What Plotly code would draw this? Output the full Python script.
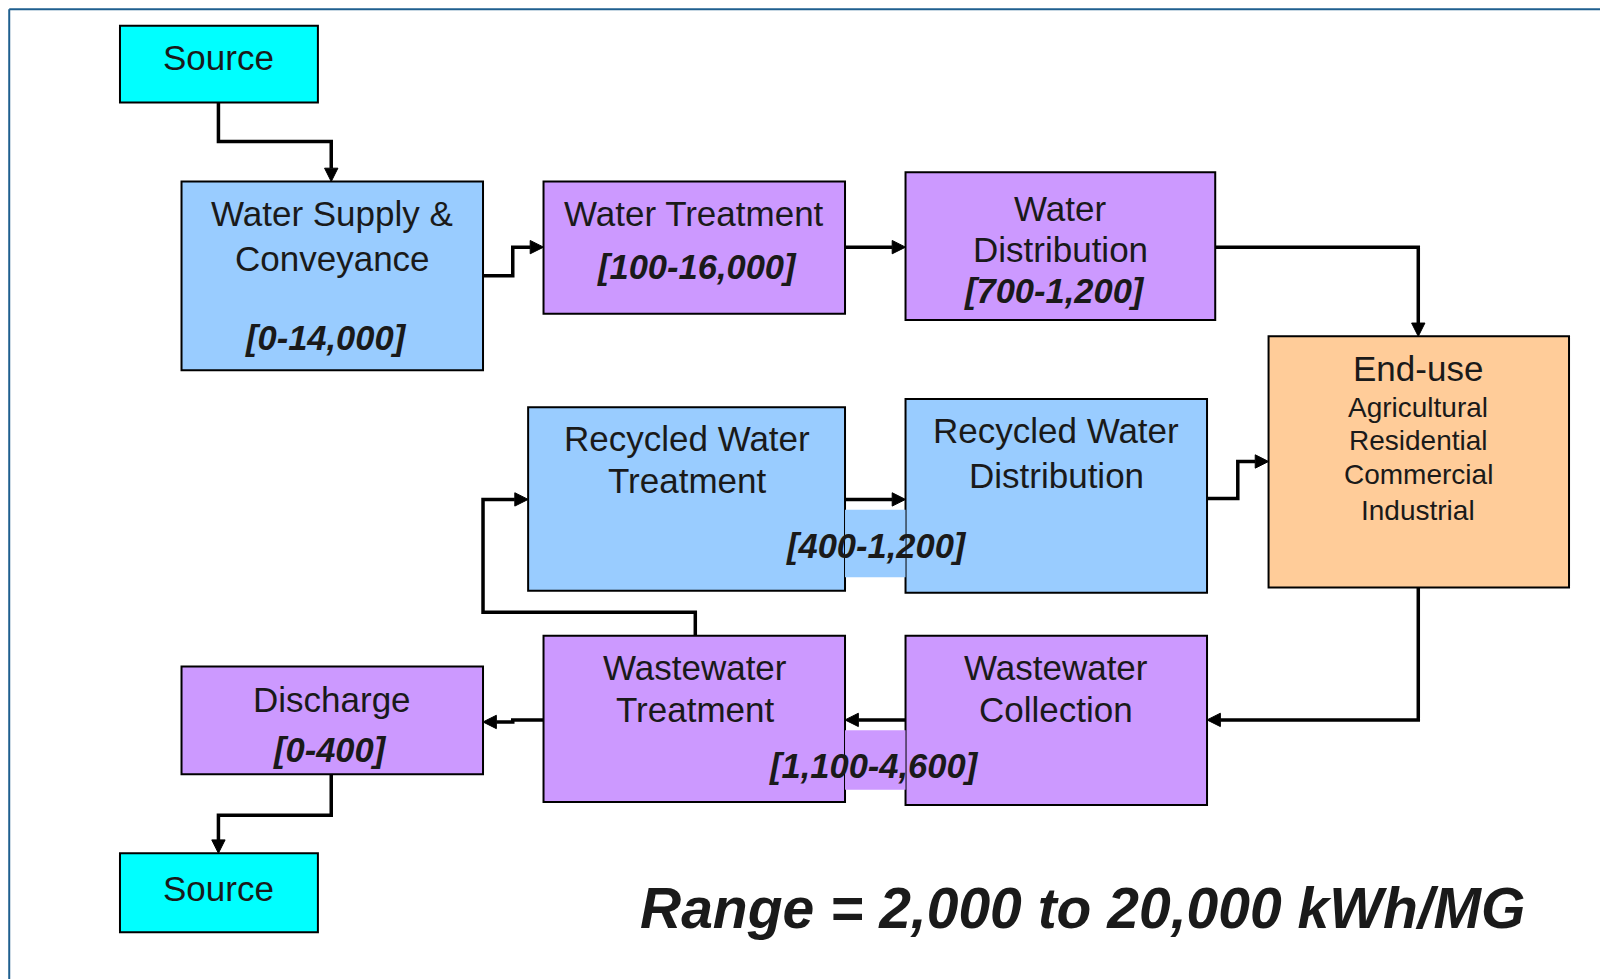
import plotly.graph_objects as go

# ---- diagram content (energy intensity ranges, kWh per million gallons) ----
stage_keys = ["source_in", "supply", "treatment", "distribution", "end_use",
              "rw_treatment", "rw_distribution", "ww_treatment", "ww_collection",
              "discharge", "source_out"]
stage_titles = [["Source"], ["Water Supply &", "Conveyance"], ["Water Treatment"],
                ["Water", "Distribution"], ["End-use"],
                ["Recycled Water", "Treatment"], ["Recycled Water", "Distribution"],
                ["Wastewater", "Treatment"], ["Wastewater", "Collection"],
                ["Discharge"], ["Source"]]
stage_ranges = ["", "[0-14,000]", "[100-16,000]", "[700-1,200]", "",
                "", "", "", "", "[0-400]", ""]
recycled_range = "[400-1,200]"
wastewater_range = "[1,100-4,600]"
end_use_sectors = ["Agricultural", "Residential", "Commercial", "Industrial"]
total_low, total_high = "2,000", "20,000"
unit = "kWh/MG"

flows = [("source_in", "supply"), ("supply", "treatment"), ("treatment", "distribution"),
         ("distribution", "end_use"), ("rw_treatment", "rw_distribution"),
         ("rw_distribution", "end_use"), ("end_use", "ww_collection"),
         ("ww_collection", "ww_treatment"), ("ww_treatment", "rw_treatment"),
         ("ww_treatment", "discharge"), ("discharge", "source_out")]

# ---- layout geometry (reference drawn at 1568 wide, scaled to 1608) ----
K = 1608 / 1568
CYAN, BLUE, PURPLE, ORANGE = "#00FFFF", "#99CCFF", "#CC99FF", "#FFCC99"
box_geom = {
    "source_in": (117, 25, 310, 100, CYAN),
    "supply": (177, 177, 471, 361, BLUE),
    "treatment": (530, 177, 824, 306, PURPLE),
    "distribution": (883, 168, 1185, 312, PURPLE),
    "end_use": (1237, 328, 1530, 573, ORANGE),
    "rw_treatment": (515, 397, 824, 576, BLUE),
    "rw_distribution": (883, 389, 1177, 578, BLUE),
    "ww_treatment": (530, 620, 824, 782, PURPLE),
    "ww_collection": (883, 620, 1177, 785, PURPLE),
    "discharge": (177, 650, 471, 755, PURPLE),
    "source_out": (117, 832, 310, 909, CYAN),
}
title_pos = {
    "source_in": (213, [56]), "supply": (324, [208, 252]), "treatment": (677, [208]),
    "distribution": (1034, [203, 243]), "end_use": (1383, [359]),
    "rw_treatment": (670, [428, 469]), "rw_distribution": (1030, [420, 464]),
    "ww_treatment": (678, [651, 692]), "ww_collection": (1030, [651, 692]),
    "discharge": (324, [682]), "source_out": (213, [866]),
}
range_pos = {"supply": (318, 330), "treatment": (680, 260),
             "distribution": (1028, 284), "discharge": (322, 731)}
flow_paths = {
    ("source_in", "supply"): [(213, 100), (213, 138), (323, 138), (323, 177)],
    ("supply", "treatment"): [(471, 269), (500, 269), (500, 241), (530, 241)],
    ("treatment", "distribution"): [(824, 241), (883, 241)],
    ("distribution", "end_use"): [(1185, 241), (1383, 241), (1383, 328)],
    ("rw_treatment", "rw_distribution"): [(824, 487), (883, 487)],
    ("rw_distribution", "end_use"): [(1177, 486), (1207, 486), (1207, 450), (1237, 450)],
    ("end_use", "ww_collection"): [(1383, 573), (1383, 702), (1177, 702)],
    ("ww_collection", "ww_treatment"): [(883, 702), (824, 702)],
    ("ww_treatment", "rw_treatment"): [(678, 620), (678, 597), (471, 597), (471, 487), (515, 487)],
    ("ww_treatment", "discharge"): [(530, 702), (500, 702), (500, 704), (471, 704)],
    ("discharge", "source_out"): [(323, 755), (323, 795), (213, 795), (213, 832)],
}

FONT = "Liberation Sans, Arial, sans-serif"
TXT = "#1a1a1a"
PAGE_PAD = 8  # default body margin of the html page

fig = go.Figure()
shapes, notes = [], []


def s(v):
    return v * K


def rect(x0, y0, x1, y1, fill, line=True):
    shapes.append(dict(type="rect", xref="x", yref="y", x0=s(x0), y0=s(y0), x1=s(x1), y1=s(y1),
                       fillcolor=fill, layer="above",
                       line=dict(color="#000000", width=2 if line else 0)))


def label(x, y, text, size, bold=False, italic=False):
    if bold:
        text = "<b>" + text + "</b>"
    if italic:
        text = "<i>" + text + "</i>"
    notes.append(dict(x=s(x), y=s(y), xref="x", yref="y", text=text, showarrow=False,
                      xanchor="center", yanchor="middle",
                      font=dict(family=FONT, size=size, color=TXT)))


def connector(pts, head=13, half=6.5):
    (xa, ya), (xb, yb) = pts[-2], pts[-1]
    dx, dy = xb - xa, yb - ya
    n = (dx * dx + dy * dy) ** 0.5
    ux, uy = dx / n, dy / n
    bx, by = xb - ux * head, yb - uy * head
    path = "M " + " L ".join(f"{s(x)},{s(y)}" for x, y in pts[:-1] + [(bx, by)])
    shapes.append(dict(type="path", xref="x", yref="y", path=path, layer="above",
                       line=dict(color="#000000", width=3.5)))
    px, py = -uy, ux
    tri = (f"M {s(xb)},{s(yb)} L {s(bx + px * half)},{s(by + py * half)} "
           f"L {s(bx - px * half)},{s(by - py * half)} Z")
    shapes.append(dict(type="path", xref="x", yref="y", path=tri, layer="above",
                       fillcolor="#000000", line=dict(color="#000000", width=1)))


# frame (top edge sits just inside the page margin)
shapes.append(dict(type="line", xref="x", yref="y", x0=s(9), x1=1608, y0=9.2, y1=9.2,
                   line=dict(color="#1f5f8f", width=2)))
shapes.append(dict(type="line", xref="x", yref="y", x0=s(9), x1=s(9), y0=9.2, y1=979,
                   line=dict(color="#1f5f8f", width=2)))

for f in flows:
    connector(flow_paths[f])

for key in stage_keys:
    x0, y0, x1, y1, fill = box_geom[key]
    rect(x0, y0, x1, y1, fill)

# bands joining paired stages
rect(824, 497, 883, 563, BLUE, line=False)
rect(824, 712, 883, 770, PURPLE, line=False)

for key, lines in zip(stage_keys, stage_titles):
    cx, ys = title_pos[key]
    for t, y in zip(lines, ys):
        label(cx, y, t, 35)

for key, r in zip(stage_keys, stage_ranges):
    if r:
        cx, y = range_pos[key]
        label(cx, y, r, 34.5, bold=True, italic=True)

for t, y in zip(end_use_sectors, [397, 430, 463, 498]):
    label(1383, y, t, 28)

label(855, 532, recycled_range, 34.5, bold=True, italic=True)
label(852, 747, wastewater_range, 34.5, bold=True, italic=True)
label(1056, 885, f"Range = {total_low} to {total_high} {unit}", 57, bold=True, italic=True)

fig.update_layout(
    width=1608 - PAGE_PAD, height=979 - PAGE_PAD,
    margin=dict(l=0, r=0, t=0, b=0),
    paper_bgcolor="#ffffff", plot_bgcolor="#ffffff",
    xaxis=dict(range=[PAGE_PAD, 1608], visible=False, fixedrange=True),
    yaxis=dict(range=[979, PAGE_PAD], visible=False, fixedrange=True),
    shapes=shapes, annotations=notes, showlegend=False,
)

fig.write_html("out.html")
